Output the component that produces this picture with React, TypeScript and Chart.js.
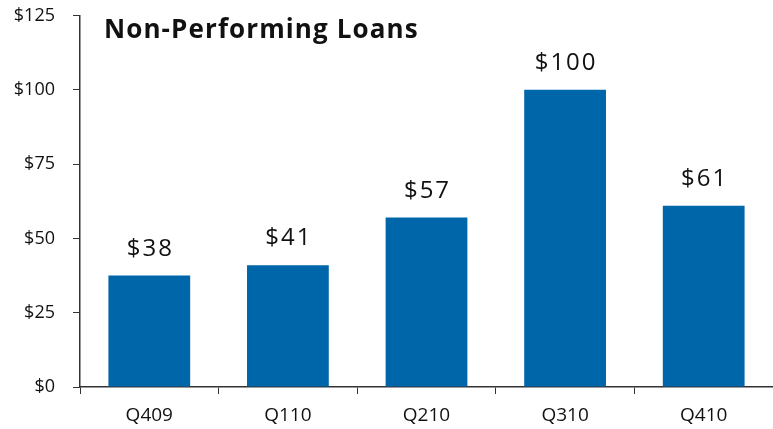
import React, { useEffect, useRef } from "react";
import { Chart, registerables } from "chart.js";

Chart.register(...registerables);

const categories = ["Q409", "Q110", "Q210", "Q310", "Q410"];
const values = [37.5, 41, 57, 100, 61];
const valueLabels = ["$38", "$41", "$57", "$100", "$61"];
const yTicks = [0, 25, 50, 75, 100, 125];
const title = "Non-Performing Loans";

const FONT = "'Open Sans', 'DejaVu Sans', sans-serif";

const labelPlugin = {
  id: "labels",
  afterDatasetsDraw(chart: any) {
    const ctx = chart.ctx;
    const meta = chart.getDatasetMeta(0);
    ctx.save();
    ctx.fillStyle = "#111";
    ctx.font = `24px ${FONT}`;
    (ctx as any).letterSpacing = "2px";
    ctx.textAlign = "center";
    ctx.textBaseline = "alphabetic";
    meta.data.forEach((bar: any, i: number) => {
      ctx.fillText(valueLabels[i], bar.x + 1, bar.y - 20);
    });
    ctx.font = `bold 26px ${FONT}`;
    (ctx as any).letterSpacing = "1.1px";
    ctx.textAlign = "left";
    ctx.fillText(title, chart.chartArea.left + 24, 38);
    ctx.restore();
  },
};

export default function App() {
  const ref = useRef<HTMLCanvasElement>(null);
  useEffect(() => {
    const chart = new Chart(ref.current!, {
      type: "bar",
      data: {
        labels: categories,
        datasets: [
          {
            data: values,
            backgroundColor: "#0066AA",
            barPercentage: 0.59,
            categoryPercentage: 1,
          },
        ],
      },
      options: {
        animation: false,
        responsive: false,
        maintainAspectRatio: false,
        layout: { padding: { top: 15.5, right: 0, left: 0, bottom: 0 } },
        plugins: { legend: { display: false }, tooltip: { enabled: false } },
        scales: {
          x: {
            grid: {
              offset: true,
              drawOnChartArea: false,
              tickLength: 7,
              color: "#333",
            },
            border: { color: "#333", width: 1.5 },
            ticks: {
              color: "#111",
              font: { family: FONT, size: 19 },
              padding: 10,
            },
            afterFit: (s: any) => {
              s.height = 42;
              s.paddingLeft = 0;
              s.paddingRight = 0;
            },
          },
          y: {
            min: 0,
            max: 125,
            afterBuildTicks: (s: any) => {
              s.ticks = yTicks.map((v) => ({ value: v }));
            },
            grid: { drawOnChartArea: false, tickLength: 7, color: "#333" },
            border: { color: "#333", width: 1.5 },
            ticks: {
              color: "#111",
              font: { family: FONT, size: 18 },
              padding: 18,
              callback: (v: any) => "$" + v,
            },
            afterFit: (s: any) => {
              s.width = 80;
              s.paddingTop = 0;
              s.paddingBottom = 0;
            },
          },
        },
      },
      plugins: [labelPlugin],
    });
    return () => chart.destroy();
  }, []);
  return (
    <div style={{ position: "fixed", left: 0, top: 0, width: 773, height: 429, background: "#fff" }}>
      <canvas ref={ref} width={773} height={429} />
    </div>
  );
}
